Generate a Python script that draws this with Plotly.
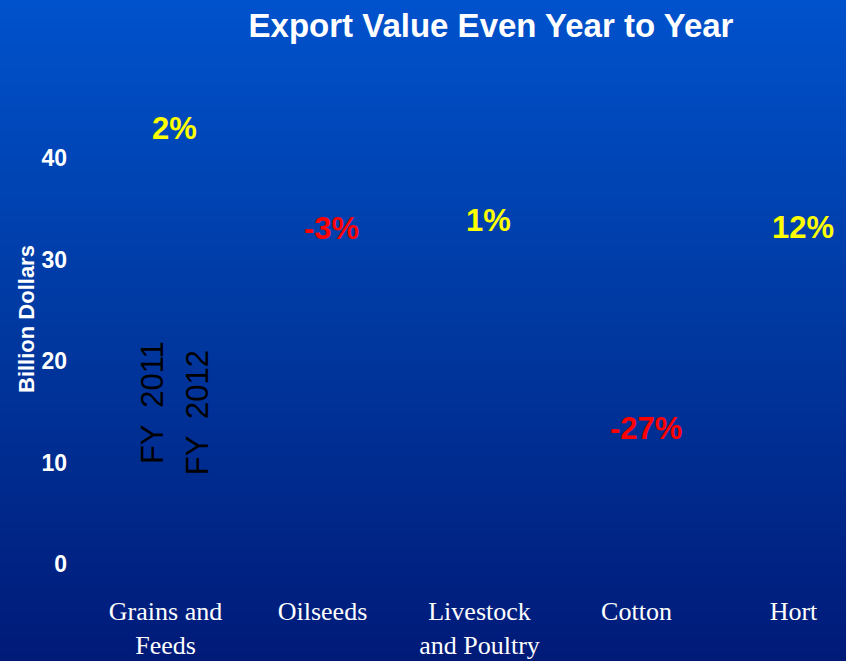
import plotly.graph_objects as go

# Export value by commodity group, billion dollars
categories = ["Grains and<br>Feeds", "Oilseeds", "Livestock<br>and Poultry", "Cotton", "Hort"]
fy2011 = [38.2, 29.1, 29.6, 9.4, 26.1]
fy2012 = [39.0, 28.2, 29.9, 6.9, 29.2]
series_names = ["FY  2011", "FY  2012"]
y_ticks = [0, 10, 20, 30, 40]

x_pos = list(range(len(categories)))

fig = go.Figure()
for name, vals in zip(series_names, [fy2011, fy2012]):
    fig.add_trace(go.Bar(
        x=x_pos, y=vals, name=name,
        marker=dict(color="rgba(0,0,0,0)", line=dict(width=0)),
        hoverinfo="skip", showlegend=False,
    ))

# vertical blue gradient behind everything (paper coordinates beyond the plot area)
W, H = 846, 661
L, R, T, B = 70, 846, 100, 570
def px_to_paper_x(px):
    return (px - L) / (R - L)
def px_to_paper_y(py):
    return (B - py) / (B - T)

stops = [(0, (0, 82, 204)), (330, (0, 56, 160)), (661, (0, 26, 120))]
def grad(py):
    for (p0, c0), (p1, c1) in zip(stops[:-1], stops[1:]):
        if p0 <= py <= p1:
            t = (py - p0) / (p1 - p0)
            return tuple(round(a + (b - a) * t) for a, b in zip(c0, c1))
    return stops[-1][1]

shapes = []
step = 6
for py in range(0, H, step):
    c = grad(py + step / 2)
    shapes.append(dict(
        type="rect", xref="paper", yref="paper", layer="below",
        x0=px_to_paper_x(-2), x1=px_to_paper_x(W + 2),
        y0=px_to_paper_y(py + step + 0.5), y1=px_to_paper_y(py),
        fillcolor="rgb(%d,%d,%d)" % c, line=dict(width=0),
    ))

annotations = []
# year-over-year change above each group
for i, (a, b) in enumerate(zip(fy2011, fy2012)):
    pct = round((b / a - 1) * 100)
    annotations.append(dict(
        x=i, y=max(a, b), xref="x", yref="y", yshift=40, yanchor="middle",
        text="%d%%" % pct, showarrow=False,
        font=dict(family="Liberation Sans, Arial", size=31,
                  color="#FFFF00" if pct >= 0 else "#FF0000", weight="bold"),
    ))

# series names written inside the first group
for name, dx, yv in zip(series_names, [-22, 23], [15.9, 14.9]):
    annotations.append(dict(
        x=0, y=yv, xref="x", yref="y", xshift=dx, textangle=-90,
        text=name, showarrow=False,
        font=dict(family="Liberation Sans, Arial", size=31, color="black"),
    ))

# axis title
annotations.append(dict(
    x=px_to_paper_x(26), y=px_to_paper_y(319), xref="paper", yref="paper",
    xanchor="center", yanchor="middle",
    text="Billion Dollars", textangle=-90, showarrow=False,
    font=dict(family="Liberation Sans, Arial", size=22, color="white", weight="bold"),
))

fig.update_layout(
    width=W, height=H,
    margin=dict(l=L, r=W - R, t=T, b=H - B),
    paper_bgcolor="rgb(0,56,160)",
    plot_bgcolor="rgba(0,0,0,0)",
    barmode="group", bargap=0.41, bargroupgap=0,
    title=dict(
        text="Export Value Even Year to Year",
        x=491 / W, y=1 - 25 / H, xanchor="center", yanchor="middle",
        font=dict(family="Liberation Sans, Arial", size=33, color="white", weight="bold"),
    ),
    xaxis=dict(
        tickmode="array", tickvals=x_pos, ticktext=categories,
        range=[-(174.5 - L) / 157, 4 + (R - 802.5) / 157],
        showgrid=False, zeroline=False, showline=False, ticks="",
        ticklabelshift=-9, ticklabelstandoff=23,
        tickfont=dict(family="Liberation Serif, Times New Roman", size=26, color="white"),
    ),
    yaxis=dict(
        tickmode="array", tickvals=y_ticks,
        range=[-6 / 10.15, 464 / 10.15],
        showgrid=False, zeroline=False, showline=False, ticks="",
        ticklabelstandoff=2,
        tickfont=dict(family="Liberation Sans, Arial", size=23, color="white", weight="bold"),
    ),
    shapes=shapes,
    annotations=annotations,
    showlegend=False,
)

fig.write_html("out.html")
